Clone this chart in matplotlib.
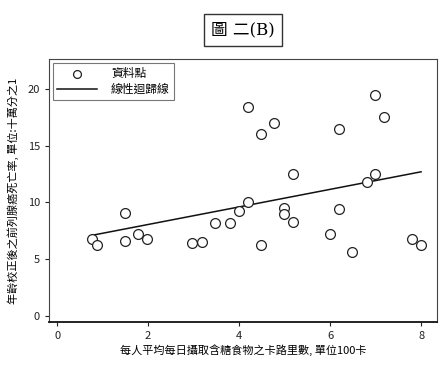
import numpy as np
import matplotlib
matplotlib.use("Agg")
import matplotlib.pyplot as plt

plt.rcParams['font.family'] = ['Noto Sans CJK TC', 'DejaVu Sans']

# calories from sugar foods (100 kcal) vs prostate cancer mortality
sugar = [0.77, 0.88, 1.48, 1.48, 1.78, 1.98, 2.97, 3.19, 3.48, 3.79,
         3.99, 4.19, 4.19, 4.49, 4.49, 4.77, 4.98, 4.98, 5.18, 5.18,
         5.99, 6.19, 6.19, 6.48, 6.81, 6.98, 6.98, 7.18, 7.80, 8.00]
mortality = [6.8, 6.2, 9.1, 6.6, 7.2, 6.8, 6.4, 6.5, 8.2, 8.2,
             9.2, 10.0, 18.4, 6.2, 16.0, 17.0, 9.5, 9.0, 12.5, 8.3,
             7.2, 9.4, 16.5, 5.6, 11.8, 12.5, 19.5, 17.5, 6.8, 6.2]

fit_x = [0.77, 8.0]
fit_y = [7.1, 12.7]

fig = plt.figure(figsize=(4.48, 3.68), dpi=100)
ax = fig.add_axes([49/448, 1 - 322/368, 388/448, 263/368])

ax.scatter(sugar, mortality, s=50, facecolors='white', edgecolors='#222222',
           linewidths=0.9, label='資料點', zorder=3)
ax.plot(fit_x, fit_y, color='#111111', lw=1.1, label='線性迴歸線', zorder=2)

ax.set_xlim(-0.18, 8.35)
ax.set_ylim(-0.55, 22.65)
ax.set_xticks([0, 2, 4, 6, 8])
ax.set_yticks([0, 5, 10, 15, 20])
ax.tick_params(labelsize=8, length=3, width=0.8, colors='#222222')
for s in ax.spines.values():
    s.set_linewidth(0.8)
    s.set_color('#444444')
ax.spines['left'].set_linestyle((0, (3, 1)))
ax.spines['bottom'].set_linewidth(1.3)
ax.spines['bottom'].set_color('#111111')

ax.set_xlabel('每人平均每日攝取含糖食物之卡路里數, 單位100卡', fontsize=8, labelpad=2)
ax.set_ylabel('年齡校正後之前列腺癌死亡率, 單位:十萬分之1', fontsize=8, labelpad=6)

leg = ax.legend(loc='upper left', fontsize=8.5, frameon=True, fancybox=False,
                borderaxespad=0.3, handlelength=3.4, borderpad=0.35,
                labelspacing=0.3, handletextpad=1.2, markerscale=0.8)
leg.get_frame().set_edgecolor('#555555')
leg.get_frame().set_linewidth(0.8)

fig.text(243/448, 1 - 30/368, '圖 二(B)', ha='center', va='center', fontsize=12,
         family=['DejaVu Serif', 'Noto Sans CJK TC'],
         bbox=dict(boxstyle='square,pad=0.45', facecolor='white',
                   edgecolor='#333333', linewidth=1.0))

fig.savefig('out.png', dpi=100, facecolor='white')
